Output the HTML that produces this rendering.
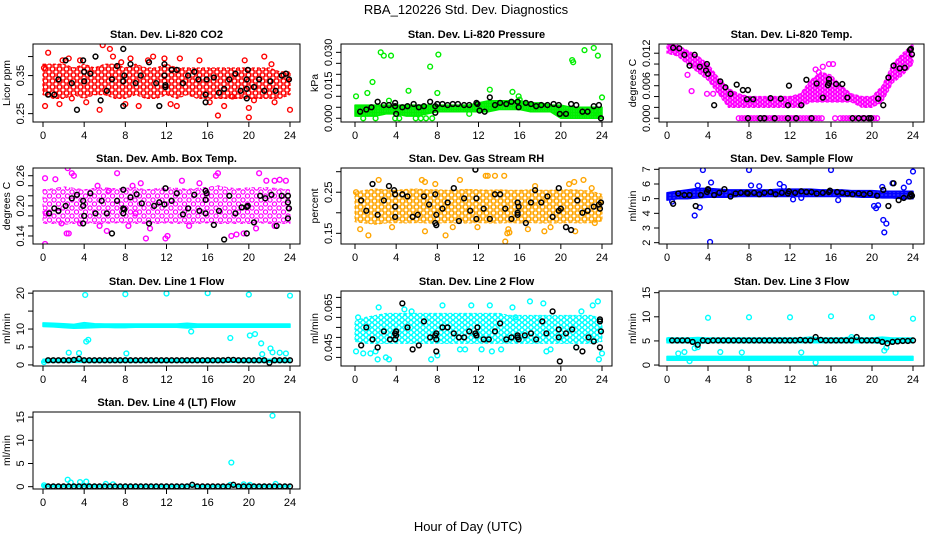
<!DOCTYPE html>
<html><head><meta charset="utf-8"><style>
html,body{margin:0;padding:0;background:#fff;}
svg{display:block;font-family:"Liberation Sans",Arial,sans-serif;}
</style></head><body>
<svg id="chart" width="936" height="540" viewBox="0 0 936 540" xmlns="http://www.w3.org/2000/svg">
<rect width="936" height="540" fill="#fff"/>
<text x="466" y="14" font-size="13" text-anchor="middle">RBA_120226  Std. Dev. Diagnostics</text>
<text x="468" y="531" font-size="13" text-anchor="middle">Hour of Day (UTC)</text>
<defs id="defs"></defs>
</svg>
<script>
// ---------- shared data ----------
const bandHours = [0,1,2,3,4,5,6,7,8,9,10,11,12,13,14,15,16,17,18,19,20,21,22,23,24];
const halfHours = [0.5,1,1.5,2,2.5,3,3.5,4,4.5,5,5.5,6,6.5,7,7.5,8,8.5,9,9.5,10,10.5,11,11.5,12,12.5,13,13.5,14,14.5,15,15.5,16,16.5,17,17.5,18,18.5,19,19.5,20,20.5,21,21.5,22,22.5,23,23.5,24];
const xTicks = [0,4,8,12,16,20,24];

// ---------- CO2 ----------
const co2BandLo = [0.30,0.29,0.29,0.30,0.29,0.30,0.30,0.29,0.29,0.30,0.29,0.29,0.30,0.29,0.30,0.29,0.29,0.29,0.29,0.29,0.29,0.29,0.29,0.29,0.30];
const co2BandHi = [0.38,0.38,0.38,0.37,0.38,0.37,0.38,0.38,0.37,0.38,0.37,0.37,0.38,0.37,0.37,0.37,0.37,0.37,0.37,0.37,0.37,0.37,0.37,0.36,0.36];
const co2OutX = [0.1,0.2,0.5,1.6,1.9,2.5,2.8,3.6,4.2,5.5,5.8,6.5,6.8,7.6,8.0,8.5,9.3,10.2,10.7,11.8,12.4,13.0,13.3,15.2,16.2,17.0,17.6,18.4,19.6,20.0,20.0,20.5,21.5,22.2,22.5,24.0];
const co2OutY = [0.37,0.27,0.41,0.275,0.39,0.395,0.29,0.39,0.28,0.26,0.43,0.42,0.40,0.385,0.275,0.395,0.27,0.39,0.40,0.395,0.275,0.27,0.395,0.39,0.28,0.245,0.27,0.295,0.39,0.265,0.24,0.285,0.40,0.38,0.28,0.26];
const co2BlackX = [0.5,1.1,1.5,2.2,2.8,3.3,3.9,4.0,4.0,4.6,5.1,5.6,6.2,6.7,7.2,7.8,7.8,7.9,7.8,8.5,9.0,9.5,10.3,11.0,11.3,11.8,11.8,11.9,11.9,12.5,13.0,13.6,14.1,14.7,15.1,15.8,15.8,15.9,16.6,17.1,17.6,18.1,18.7,19.2,19.8,19.8,19.8,19.9,20.5,21.0,21.5,22.1,22.6,23.2,23.6,23.9];
const co2BlackY = [0.30,0.30,0.34,0.39,0.33,0.26,0.39,0.36,0.335,0.355,0.40,0.285,0.31,0.34,0.375,0.42,0.335,0.35,0.27,0.38,0.33,0.35,0.385,0.33,0.27,0.38,0.35,0.325,0.32,0.365,0.365,0.33,0.35,0.36,0.34,0.30,0.28,0.34,0.345,0.305,0.315,0.34,0.355,0.31,0.315,0.34,0.29,0.365,0.32,0.34,0.31,0.335,0.31,0.35,0.355,0.34];

// ---------- Pressure ----------
const presBandLo = [0.001,0.001,0.001,0.002,0.002,0.001,0.001,0.002,0.003,0.003,0.003,0.003,0.003,0.003,0.004,0.004,0.004,0.003,0.003,0.003,0,0,0,0,0];
const presBandHi = [0.006,0.006,0.006,0.006,0.006,0.006,0.006,0.006,0.006,0.006,0.006,0.006,0.007,0.008,0.008,0.008,0.008,0.007,0.007,0.006,0.006,0.005,0.005,0.005,0.005];
const presOutX = [0.1,0.3,1.2,1.7,2.5,2.8,3.5,3.3,5.2,7.3,8.0,8.1,13.1,15.3,15.9,16.0,21.1,21.2,22.3,23.2,23.6,24.0,23.4,2.0,3.9,4.3,6.4,7.5,0.8,11.1,5.9,6.9];
const presOutY = [0.010,0.002,0.0115,0.0165,0.030,0.0285,0.0285,0.008,0.0125,0.0235,0.0115,0.029,0.013,0.012,0.010,0.0085,0.0265,0.0255,0.031,0.032,0.0285,0.0095,0.003,0.000,0.000,0.000,0.000,0.000,0.000,0.002,0.000,0.000];
const presBlackX = [0.5,1.1,1.6,2.2,2.8,3.3,3.9,3.9,4.0,4.6,5.1,5.7,6.2,6.7,7.3,7.8,7.8,8.0,8.5,9.0,9.5,10.0,10.6,11.1,11.8,11.9,12.1,12.6,13.1,13.6,14.1,14.7,15.2,15.8,15.9,16.6,17.1,17.6,18.1,18.7,19.3,19.8,19.9,20.5,21.0,21.5,22.1,22.6,23.2,23.7,23.9];
const presBlackY = [0.003,0.004,0.005,0.0075,0.006,0.006,0.0055,0.007,0.002,0.005,0.0055,0.0065,0.005,0.0055,0.0075,0.0055,0.0025,0.0065,0.0065,0.006,0.0065,0.0065,0.006,0.006,0.007,0.0065,0.0035,0.003,0.0095,0.006,0.007,0.0065,0.0075,0.0075,0.005,0.007,0.0065,0.0055,0.006,0.006,0.0065,0.006,0.002,0.002,0.0065,0.006,0.003,0.003,0.0055,0.006,0.000];

// ---------- Li-820 Temp ----------
const tempBandLo = [0.0120,0.0115,0.0100,0.0085,0.0070,0.0045,0.0020,0.0020,0.0020,0.0020,0.0020,0.0020,0.0020,0.0020,0.0030,0.0030,0.0030,0.0030,0.0030,0.0020,0.0020,0.0030,0.0065,0.0080,0.0100];
const tempBandHi = [0.0137,0.0135,0.0125,0.0115,0.0100,0.0075,0.0055,0.0045,0.0040,0.0040,0.0040,0.0040,0.0040,0.0045,0.0070,0.0085,0.0080,0.0060,0.0045,0.0040,0.0040,0.0060,0.0100,0.0120,0.0137];
const tempOutX = [7.0,7.3,7.6,7.9,8.2,8.5,8.8,9.1,9.4,9.7,10.0,10.3,10.6,10.9,11.2,11.5,11.8,12.1,12.4,12.7,13.0,13.3,13.6,13.9,14.2,14.5,14.8,15.1,16.4,16.9,17.2,17.5,17.8,18.1,18.4,18.7,19.0,19.3,19.6,19.9,20.2,20.5,2.0,2.4,3.9,4.5,14.5,14.8,15.2,15.8,16.2];
const tempOutY = [0,0,0,0,0,0,0,0,0,0,0,0,0,0,0,0,0,0,0,0,0,0,0,0,0,0,0,0,0,0,0,0,0,0,0,0,0,0,0,0,0,0,0.0080,0.0050,0.0045,0.0045,0.0090,0.0085,0.0095,0.0100,0.0100];
const tempBlackX = [0.6,1.2,1.7,2.2,2.7,3.2,3.8,3.9,4.0,4.6,5.2,5.7,6.2,6.8,7.4,7.8,7.9,7.9,8.4,9.1,9.5,10.1,10.5,11.1,11.8,11.8,11.9,12.6,13.1,13.6,14.1,14.6,15.2,15.7,15.8,15.8,16.5,17.1,17.6,18.1,18.7,19.2,19.7,19.9,20.6,21.1,21.6,22.1,22.7,23.2,23.7,23.8,23.9];
const tempBlackY = [0.0130,0.0129,0.0117,0.0097,0.0117,0.0095,0.0088,0.0100,0.0082,0.0024,0.0068,0.0057,0.0045,0.0062,0.0052,0.0035,0.0000,0.0052,0.0035,0.0000,0.0000,0.0037,0.0000,0.0036,0.0024,0.0000,0.0060,0.0000,0.0024,0.0071,0.0000,0.0064,0.0038,0.0061,0.0065,0.0072,0.0063,0.0063,0.0038,0.0000,0.0000,0.0000,0.0000,0.0000,0.0036,0.0024,0.0075,0.0097,0.0092,0.0093,0.0126,0.0128,0.0118];

// ---------- Amb Box Temp ----------
const ambBandLo = [0.165,0.165,0.163,0.165,0.166,0.165,0.165,0.166,0.166,0.165,0.165,0.165,0.166,0.165,0.165,0.165,0.166,0.165,0.165,0.165,0.165,0.166,0.165,0.165,0.165];
const ambBandHi = [0.232,0.234,0.238,0.235,0.232,0.235,0.236,0.234,0.235,0.236,0.232,0.234,0.236,0.235,0.233,0.235,0.237,0.240,0.236,0.234,0.236,0.236,0.236,0.234,0.232];
const ambOutX = [0.2,0.2,0.3,1.2,1.8,2.3,2.4,2.5,2.8,3.0,3.6,5.3,5.5,6.2,7.2,8.3,8.7,9.5,10.4,11.9,12.1,13.5,14.2,15.2,16.8,17.0,18.3,18.8,19.5,20.7,21.0,21.7,22.5,23.0,23.6,22.5,10.0,9.0,6.4];
const ambOutY = [0.255,0.124,0.185,0.253,0.165,0.145,0.275,0.145,0.265,0.26,0.165,0.240,0.16,0.15,0.265,0.16,0.24,0.245,0.155,0.135,0.14,0.25,0.16,0.245,0.26,0.265,0.14,0.143,0.145,0.155,0.265,0.25,0.25,0.252,0.25,0.16,0.135,0.185,0.23];
const ambBlackX = [0.6,1.1,1.5,2.2,2.8,3.3,3.9,3.9,4.0,3.9,4.6,5.1,5.7,6.2,6.7,7.2,7.8,7.8,7.8,7.9,8.5,9.1,9.6,10.3,10.8,11.3,11.8,11.9,12.5,13.0,13.6,14.1,14.7,15.2,15.8,15.8,15.8,15.9,16.6,17.1,17.6,18.1,18.7,19.3,19.8,19.8,19.9,20.5,21.1,21.6,22.2,22.7,23.2,23.8,23.8,23.9,23.8];
const ambBlackY = [0.185,0.195,0.19,0.200,0.215,0.222,0.210,0.200,0.180,0.165,0.225,0.185,0.21,0.185,0.145,0.21,0.232,0.195,0.185,0.193,0.217,0.223,0.205,0.165,0.2,0.207,0.203,0.235,0.21,0.225,0.183,0.195,0.222,0.190,0.23,0.212,0.185,0.225,0.162,0.190,0.133,0.22,0.185,0.197,0.198,0.145,0.200,0.167,0.22,0.215,0.222,0.160,0.22,0.22,0.207,0.195,0.175];

// ---------- Gas Stream RH ----------
const rhBandLo = [0.178,0.175,0.172,0.175,0.176,0.175,0.176,0.175,0.175,0.176,0.175,0.175,0.176,0.175,0.175,0.176,0.175,0.176,0.175,0.175,0.175,0.176,0.175,0.176,0.180];
const rhBandHi = [0.250,0.255,0.258,0.256,0.255,0.257,0.258,0.256,0.256,0.255,0.256,0.257,0.256,0.255,0.256,0.255,0.255,0.256,0.255,0.255,0.256,0.256,0.255,0.252,0.245];
const rhOutX = [0.1,0.5,1.3,2.3,3.6,6.5,6.8,7.8,8.8,9.5,10.2,11.9,12.7,12.9,13.6,14.5,14.8,14.9,15.0,14.6,16.8,17.5,18.4,19.0,20.8,21.3,21.4,22.2,23.0,23.3,6.8];
const rhOutY = [0.25,0.16,0.145,0.28,0.165,0.28,0.155,0.27,0.145,0.165,0.28,0.165,0.29,0.29,0.29,0.29,0.15,0.16,0.152,0.13,0.16,0.265,0.155,0.165,0.27,0.275,0.155,0.28,0.26,0.175,0.275];
const rhBlackX = [0.6,1.1,1.7,2.2,2.8,3.3,3.8,3.9,3.9,3.9,4.6,5.1,5.6,6.1,6.7,7.2,7.8,7.8,7.9,7.9,8.5,9.0,9.6,10.1,10.6,11.2,11.7,11.8,11.8,12.5,13.1,13.6,14.1,14.6,15.2,15.8,15.8,15.8,15.9,16.6,17.1,17.5,18.1,18.7,19.2,19.8,19.8,20.0,20.5,21.0,21.6,22.1,22.6,23.2,23.7,23.9,23.8];
const rhBlackY = [0.23,0.205,0.27,0.195,0.23,0.265,0.255,0.245,0.215,0.19,0.245,0.24,0.19,0.195,0.24,0.22,0.245,0.175,0.17,0.195,0.21,0.225,0.26,0.18,0.235,0.205,0.305,0.235,0.185,0.21,0.185,0.245,0.245,0.21,0.185,0.225,0.2,0.195,0.215,0.175,0.225,0.255,0.225,0.24,0.19,0.26,0.205,0.21,0.165,0.158,0.23,0.20,0.205,0.215,0.22,0.225,0.21];

// ---------- Sample Flow ----------
const sfBandLo = [4.9,5.0,5.0,5.05,5.1,5.1,5.1,5.15,5.15,5.15,5.15,5.15,5.15,5.15,5.15,5.15,5.15,5.15,5.15,5.1,5.1,5.05,5.05,5.0,5.0];
const sfBandHi = [5.4,5.5,5.6,5.7,5.7,5.65,5.6,5.6,5.6,5.6,5.6,5.65,5.65,5.65,5.65,5.6,5.6,5.6,5.55,5.55,5.55,5.5,5.5,5.5,5.5];
const sfOutX = [2.7,3.0,3.2,3.5,4.2,4.3,8.0,8.2,9.0,11.0,11.4,12.3,13.1,16.0,16.7,20.2,20.4,20.6,21.1,21.2,21.4,21.0,22.0,23.1,23.6,24.0,0.5];
const sfOutY = [3.85,5.9,4.4,6.95,2.05,6.1,6.95,5.9,5.85,6.0,5.8,4.95,5.05,6.95,4.9,4.5,4.35,4.55,3.55,2.7,3.3,5.8,6.05,5.75,6.15,6.85,4.8];
const sfBlackX = [0.6,1.1,1.7,2.2,2.8,3.3,3.9,4.0,4.0,4.6,5.1,5.6,6.2,6.7,7.2,7.8,7.9,8.5,9.0,9.5,10.1,10.6,11.2,11.8,11.9,12.5,13.1,13.6,14.1,14.6,15.2,15.8,15.9,16.6,17.1,17.6,18.1,18.7,19.2,19.8,20.5,21.1,21.6,22.1,22.6,23.1,23.7,23.9,23.8];
const sfBlackY = [4.65,5.35,5.25,5.25,4.5,5.25,5.45,5.6,5.65,5.25,5.4,5.65,5.15,5.35,5.4,5.4,5.35,5.4,5.3,5.4,5.45,5.3,5.4,5.35,5.5,5.4,5.5,5.45,5.45,5.35,5.4,5.45,5.55,5.45,5.4,5.35,5.3,5.35,5.3,5.35,5.2,5.6,4.5,6.05,4.9,5.05,5.15,5.2,5.3];

// ---------- Line 1 Flow ----------
const l1BandLo = [10.7,10.6,10.4,10.2,10.3,10.4,10.5,10.4,10.4,10.5,10.5,10.5,10.5,10.5,10.3,10.5,10.5,10.5,10.5,10.5,10.5,10.5,10.5,10.5,10.5];
const l1BandHi = [11.7,11.6,11.5,11.3,11.8,11.5,11.4,11.4,11.4,11.4,11.4,11.4,11.4,11.4,11.6,11.4,11.4,11.4,11.4,11.4,11.4,11.4,11.4,11.4,11.4];
const l1Band2Lo = [0.7,0.7,0.7,0.7,0.7,0.7,0.7,0.7,0.7,0.7,0.7,0.7,0.7,0.7,0.7,0.7,0.7,0.7,0.7,0.7,0.7,0.7,0.7,0.7,0.7];
const l1Band2Hi = [1.6,1.6,1.6,1.7,1.6,1.6,1.6,1.6,1.6,1.6,1.6,1.6,1.6,1.6,1.7,1.6,1.7,1.6,1.6,1.6,1.6,1.6,1.6,1.6,1.6];
const l1OutX = [4.1,8.0,12.0,16.0,20.0,24.0,2.5,3.5,4.2,4.4,8.1,14.4,18.2,20.1,20.6,21.2,21.3,22.1,22.3,23.0,23.6,0.1];
const l1OutY = [19.5,19.7,19.9,20.0,19.6,19.3,3.4,3.3,6.5,7.0,3.2,9.3,7.5,8.2,8.6,6.0,3.0,4.6,3.5,3.4,3.2,0.8];
const l1BlackY = [1.3,1.3,1.3,1.3,1.3,1.4,1.7,1.3,1.3,1.3,1.3,1.3,1.3,1.3,1.3,1.3,1.3,1.3,1.3,1.3,1.3,1.3,1.3,1.3,1.3,1.3,1.3,1.3,1.3,1.3,1.3,1.3,1.3,1.3,1.3,1.4,1.4,1.3,1.3,1.3,1.3,1.3,1.3,0.6,1.3,1.3,1.3,1.3];

// ---------- Line 2 Flow ----------
const l2BandLo = [0.048,0.047,0.047,0.047,0.047,0.047,0.047,0.047,0.047,0.047,0.047,0.047,0.047,0.047,0.047,0.047,0.047,0.047,0.047,0.047,0.047,0.047,0.047,0.047,0.048];
const l2BandHi = [0.058,0.060,0.061,0.062,0.062,0.062,0.062,0.062,0.062,0.062,0.062,0.062,0.062,0.062,0.062,0.061,0.061,0.061,0.061,0.061,0.061,0.061,0.061,0.061,0.059];
const l2OutX = [0.1,0.3,0.8,1.5,2.0,2.2,2.3,3.0,3.3,4.8,7.4,8.0,8.5,10.2,10.7,11.3,12.3,13.1,13.3,14.2,15.3,15.6,17.0,18.3,18.6,19.0,21.5,22.0,22.2,23.1,23.6,23.7,24.0,5.5];
const l2OutY = [0.043,0.060,0.042,0.042,0.043,0.039,0.065,0.040,0.039,0.064,0.039,0.041,0.066,0.044,0.044,0.066,0.044,0.066,0.043,0.044,0.065,0.060,0.068,0.067,0.043,0.044,0.045,0.063,0.075,0.066,0.068,0.039,0.042,0.063];
const l2BlackX = [0.6,1.1,1.7,2.2,2.8,3.4,3.9,3.9,4.0,4.0,4.6,5.1,5.6,6.2,6.7,7.3,7.8,7.9,7.9,7.9,8.5,9.0,9.6,10.1,10.6,11.1,11.7,11.8,11.8,11.9,12.5,13.0,13.6,14.1,14.7,15.2,15.8,15.8,15.9,16.5,17.1,17.6,18.2,18.6,19.2,19.8,19.8,19.9,20.5,21.1,21.5,22.1,22.7,23.2,23.8,23.8,23.9,23.8];
const l2BlackY = [0.046,0.055,0.049,0.045,0.053,0.049,0.049,0.052,0.053,0.051,0.067,0.055,0.044,0.046,0.058,0.050,0.051,0.049,0.052,0.043,0.055,0.055,0.052,0.050,0.050,0.053,0.052,0.051,0.051,0.055,0.049,0.049,0.053,0.057,0.049,0.050,0.051,0.050,0.049,0.051,0.052,0.049,0.058,0.052,0.063,0.054,0.050,0.038,0.052,0.054,0.045,0.043,0.050,0.048,0.059,0.058,0.053,0.045];

// ---------- Line 3 Flow ----------
const l3BandLo = [4.6,4.6,4.6,4.5,4.6,4.6,4.6,4.6,4.6,4.6,4.6,4.6,4.6,4.6,4.6,4.6,4.6,4.6,4.6,4.6,4.6,4.5,4.6,4.6,4.6];
const l3BandHi = [5.6,5.6,5.6,5.7,5.6,5.6,5.6,5.6,5.6,5.6,5.6,5.6,5.6,5.6,5.8,5.6,5.6,5.6,5.8,5.6,5.6,5.8,5.6,5.6,5.6];
const l3Band2Lo = [1.0,1.0,1.0,1.0,1.0,1.0,1.0,1.0,1.0,1.0,1.0,1.0,1.0,1.0,1.0,1.0,1.0,1.0,1.0,1.0,1.0,1.0,1.0,1.0,1.0];
const l3Band2Hi = [1.8,1.8,1.8,1.8,1.8,1.8,1.8,1.8,1.8,1.8,1.8,1.8,1.8,1.8,1.8,1.8,1.8,1.8,1.8,1.8,1.8,1.8,1.8,1.8,1.8];
const l3OutX = [4.0,8.0,12.0,16.0,20.0,22.3,24.0,1.1,1.7,2.2,2.7,3.0,5.2,7.3,13.1,14.5,21.2,21.4,18.0,0.2];
const l3OutY = [9.8,9.9,9.9,10.1,9.9,15.0,9.6,2.4,2.7,0.8,3.5,3.7,2.7,2.6,2.6,0.5,3.0,3.6,5.8,5.2];
const l3BlackY = [5.1,5.1,5.1,5.1,4.8,4.2,5.1,5.0,5.1,5.1,5.1,5.1,5.1,5.1,5.1,5.1,5.1,5.1,5.1,5.1,5.1,5.1,5.1,5.1,5.1,5.2,5.1,5.1,5.8,5.2,5.1,5.1,5.1,5.1,5.1,5.1,5.8,5.1,5.1,5.1,5.1,4.8,4.5,4.8,4.9,5.0,5.0,5.1];

// ---------- Line 4 Flow ----------
const l4BandLo = [0,0,0,0,0,0,0,0,0,0,0,0,0,0,0,0,0,0,0,0,0,0,0,0,0];
const l4BandHi = [0.4,0.4,0.4,0.4,0.4,0.4,0.4,0.3,0.3,0.3,0.3,0.3,0.3,0.3,0.4,0.3,0.3,0.3,0.4,0.4,0.4,0.4,0.4,0.3,0.3];
const l4OutX = [0.1,2.4,2.7,3.6,4.2,6.1,6.8,18.3,22.3,22.6,14.5,18.2,19.5,20.1];
const l4OutY = [0.3,1.5,0.9,1.0,1.1,0.6,0.5,5.2,15.3,0.6,0.4,0.4,0.5,0.4];
const l4BlackY = [0.05,0.05,0.05,0.05,0.05,0.05,0.05,0.05,0.05,0.05,0.05,0.05,0.05,0.05,0.05,0.05,0.05,0.05,0.05,0.05,0.05,0.05,0.05,0.05,0.05,0.05,0.05,0.05,0.4,0.05,0.05,0.05,0.05,0.05,0.05,0.05,0.4,0.05,0.05,0.05,0.05,0.05,0.05,0.05,0.05,0.05,0.05,0.05];

// ---------- layout ----------
const NS = 'http://www.w3.org/2000/svg';
const svg = document.getElementById('chart');
const defs = document.getElementById('defs');
const cols = [
  {left:33, right:300, x0:43, x24:290},
  {left:341, right:612, x0:355, x24:602},
  {left:659, right:924, x0:667, x24:913}
];
const rows = [{top:44,bottom:122},{top:168,bottom:244},{top:291,bottom:366},{top:412,bottom:489}];

function el(tag, attrs, parent){
  const e = document.createElementNS(NS, tag);
  for (const k in attrs) e.setAttribute(k, attrs[k]);
  (parent||svg).appendChild(e);
  return e;
}
let patN = 0;
function pattern(color, w, h){
  const id = 'pat' + (patN++);
  const p = el('pattern', {id:id, patternUnits:'userSpaceOnUse', width:w, height:h}, defs);
  const pts = [[w/2,h/2],[0,0],[w,0],[0,h],[w,h]];
  pts.forEach(q => el('circle', {cx:q[0], cy:q[1], r:2.1, fill:'none', stroke:color, 'stroke-width':1.2}, p));
  return id;
}

function panel(o){
  const c = cols[o.col], r = rows[o.row];
  const g = el('g', {});
  
  
  const sx = h => c.x0 + (c.x24 - c.x0) * h / 24;
  const sy = v => r.bottom - (v - o.ymin) / (o.ymax - o.ymin) * (r.bottom - r.top);
  const clipId = 'clip' + o.name;
  const cp = el('clipPath', {id:clipId}, defs);
  el('rect', {x:c.left, y:r.top, width:c.right-c.left, height:r.bottom-r.top}, cp);
  const plot = el('g', {'clip-path':'url(#'+clipId+')'}, g);
  const pid = pattern(o.color, o.pw, o.ph);
  (o.bands||[]).forEach((b, bi) => {
    let d = '';
    bandHours.forEach((h,i) => { d += (i? 'L':'M') + sx(h).toFixed(1) + ',' + sy(b[1][i]).toFixed(1); });
    for (let i = bandHours.length-1; i >= 0; i--) d += 'L' + sx(bandHours[i]).toFixed(1) + ',' + sy(b[0][i]).toFixed(1);
    d += 'Z';
    const p = el('path', {d:d, fill:'url(#'+pid+')', stroke:o.color, 'stroke-width':o.sw, 'stroke-linejoin':'round', 'stroke-dasharray':o.dash}, plot);
    
    
  });
  o.outX.forEach((x,i) => {
    const p = el('circle', {cx:sx(x), cy:sy(o.outY[i]), r:2.4, fill:'none', stroke:o.color, 'stroke-width':1.4}, plot);
    
    
  });
  o.bx.forEach((x,i) => {
    const p = el('circle', {cx:sx(x), cy:sy(o.by[i]), r:2.4, fill:'none', stroke:'#000', 'stroke-width':1.5}, plot);
    
    
  });
  const box = el('rect', {x:c.left, y:r.top, width:c.right-c.left, height:r.bottom-r.top, fill:'none', stroke:'#000', 'stroke-width':1}, g);
  
  
  xTicks.forEach(t => {
    el('line', {x1:sx(t), x2:sx(t), y1:r.bottom, y2:r.bottom+5, stroke:'#000'}, g);
    const tx = el('text', {x:sx(t), y:r.bottom+17, 'font-size':11, 'text-anchor':'middle'}, g);
    tx.textContent = t;
    
    
  });
  o.yTicks.forEach((t,i) => {
    el('line', {x1:c.left, x2:c.left-5, y1:sy(t), y2:sy(t), stroke:'#000'}, g);
    if (o.yLabels[i]) {
      const tx = el('text', {x:c.left-9, y:sy(t), 'font-size':11, 'text-anchor':'middle', transform:'rotate(-90 '+(c.left-9)+' '+sy(t)+')'}, g);
      tx.textContent = o.yLabels[i];
      
      
    }
  });
  const yc = (r.top + r.bottom)/2;
  const yt = el('text', {x:c.left-23, y:yc, 'font-size':10.5, 'text-anchor':'middle', transform:'rotate(-90 '+(c.left-23)+' '+yc+')'}, g);
  yt.textContent = o.ylab;
  
  
  const tt = el('text', {x:(c.left+c.right)/2, y:r.top-6, 'font-size':11, 'font-weight':'bold', 'text-anchor':'middle'}, g);
  tt.textContent = o.title;
  
  
}

panel({name:'co2-panel', col:0, row:0, title:'Stan. Dev. Li-820 CO2', ylab:'Licor ppm', color:'#FF0000', pw:7, ph:6, sw:1.2, dash:'3 2',
  ymin:0.228, ymax:0.433, yTicks:[0.25,0.30,0.35,0.40], yLabels:['0.25','','0.35',''],
  bands:[[co2BandLo,co2BandHi]], outX:co2OutX, outY:co2OutY, bx:co2BlackX, by:co2BlackY});
panel({name:'pressure-panel', col:1, row:0, title:'Stan. Dev. Li-820 Pressure', ylab:'kPa', color:'#00EE00', pw:3.5, ph:3, sw:1.5, dash:'none',
  ymin:-0.0017, ymax:0.0338, yTicks:[0,0.005,0.010,0.015,0.020,0.025,0.030], yLabels:['0.000','','','0.015','','','0.030'],
  bands:[[presBandLo,presBandHi]], outX:presOutX, outY:presOutY, bx:presBlackX, by:presBlackY});
panel({name:'li820-temp-panel', col:2, row:0, title:'Stan. Dev. Li-820 Temp.', ylab:'degrees C', color:'#FF00FF', pw:5, ph:4, sw:1.2, dash:'3 2',
  ymin:-0.0007, ymax:0.0137, yTicks:[0,0.002,0.004,0.006,0.008,0.010,0.012], yLabels:['0.000','','','0.006','','','0.012'],
  bands:[[tempBandLo,tempBandHi]], outX:tempOutX, outY:tempOutY, bx:tempBlackX, by:tempBlackY});
panel({name:'amb-box-temp-panel', col:0, row:1, title:'Stan. Dev. Amb. Box Temp.', ylab:'degrees C', color:'#FF00FF', pw:9, ph:8, sw:1, dash:'3 4',
  ymin:0.124, ymax:0.2754, yTicks:[0.14,0.16,0.18,0.20,0.22,0.24,0.26], yLabels:['0.14','','','0.20','','','0.26'],
  bands:[[ambBandLo,ambBandHi]], outX:ambOutX, outY:ambOutY, bx:ambBlackX, by:ambBlackY});
panel({name:'gas-rh-panel', col:1, row:1, title:'Stan. Dev. Gas Stream RH', ylab:'percent', color:'#FFA500', pw:7, ph:6, sw:1, dash:'3 2',
  ymin:0.124, ymax:0.309, yTicks:[0.15,0.20,0.25,0.30], yLabels:['0.15','','0.25',''],
  bands:[[rhBandLo,rhBandHi]], outX:rhOutX, outY:rhOutY, bx:rhBlackX, by:rhBlackY});
panel({name:'sample-flow-panel', col:2, row:1, title:'Stan. Dev. Sample Flow', ylab:'ml/min', color:'#0000FF', pw:4, ph:3, sw:1.5, dash:'none',
  ymin:1.91, ymax:7.09, yTicks:[2,3,4,5,6,7], yLabels:['2','3','4','5','6','7'],
  bands:[[sfBandLo,sfBandHi]], outX:sfOutX, outY:sfOutY, bx:sfBlackX, by:sfBlackY});
panel({name:'line1-flow-panel', col:0, row:2, title:'Stan. Dev. Line 1 Flow', ylab:'ml/min', color:'#00FFFF', pw:3, ph:3, sw:1.5, dash:'none',
  ymin:-0.3, ymax:20.6, yTicks:[0,5,10,15,20], yLabels:['0','5','10','','20'],
  bands:[[l1BandLo,l1BandHi],[l1Band2Lo,l1Band2Hi]], outX:l1OutX, outY:l1OutY, bx:halfHours, by:l1BlackY});
panel({name:'line2-flow-panel', col:1, row:2, title:'Stan. Dev. Line 2 Flow', ylab:'ml/min', color:'#00FFFF', pw:6, ph:5, sw:1, dash:'3 2',
  ymin:0.0357, ymax:0.0732, yTicks:[0.040,0.045,0.050,0.055,0.060,0.065,0.070], yLabels:['','0.045','','','','0.065',''],
  bands:[[l2BandLo,l2BandHi]], outX:l2OutX, outY:l2OutY, bx:l2BlackX, by:l2BlackY});
panel({name:'line3-flow-panel', col:2, row:2, title:'Stan. Dev. Line 3 Flow', ylab:'ml/min', color:'#00FFFF', pw:3, ph:3, sw:1.5, dash:'none',
  ymin:-0.2, ymax:15.35, yTicks:[0,5,10,15], yLabels:['0','5','10','15'],
  bands:[[l3BandLo,l3BandHi],[l3Band2Lo,l3Band2Hi]], outX:l3OutX, outY:l3OutY, bx:halfHours, by:l3BlackY});
panel({name:'line4-flow-panel', col:0, row:3, title:'Stan. Dev. Line 4 (LT) Flow', ylab:'ml/min', color:'#00FFFF', pw:3, ph:3, sw:1.5, dash:'none',
  ymin:-0.5, ymax:16.1, yTicks:[0,5,10,15], yLabels:['0','5','10','15'],
  bands:[[l4BandLo,l4BandHi]], outX:l4OutX, outY:l4OutY, bx:halfHours, by:l4BlackY});
</script>
</body></html>
